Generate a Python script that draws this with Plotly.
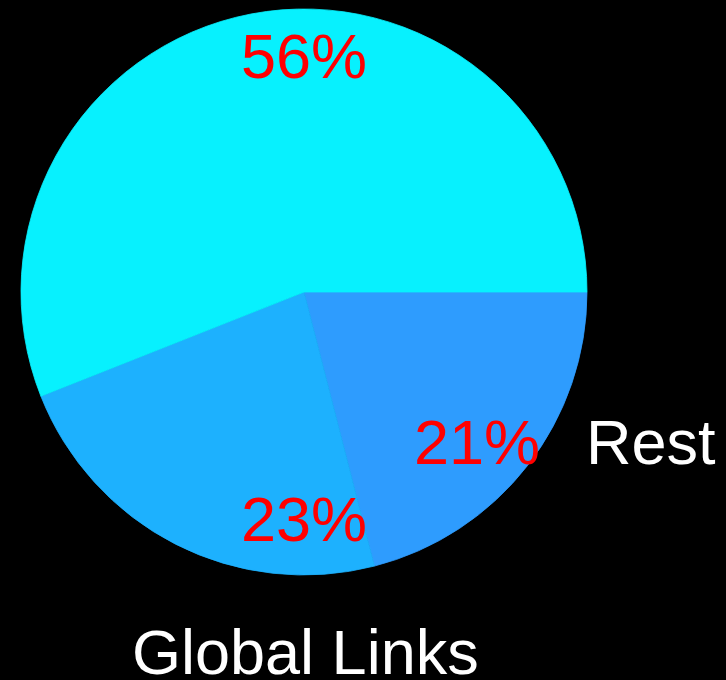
import plotly.graph_objects as go

# Data
labels = ["Rest", "Global Links", "Local Links"]
values = [21, 23, 56]
colors = ["#2E9CFE", "#1DB1FE", "#07F1FE"]

W, H = 726, 680

# label anchor positions (pixel) for percent text and category text
pct_pos = [(477, 442), (304, 519), (304, 56)]
lab_pos = [(651, 442), (305, 652), (2, 442)]

fig = go.Figure()
fig.add_trace(go.Pie(
    labels=labels,
    values=values,
    marker=dict(colors=colors, line=dict(width=0.8, color=colors)),
    sort=False,
    direction="clockwise",
    rotation=90,
    textinfo="none",
    hoverinfo="label+percent",
    domain=dict(x=[21 / W, 587 / W], y=[1 - 575 / H, 1 - 9 / H]),
    showlegend=False,
))

total = sum(values)
font = "Liberation Sans, Arial, sans-serif"
fs = 63
ann = []
for i, (lab, v) in enumerate(zip(labels, values)):
    px, py = pct_pos[i]
    ann.append(dict(x=px / W, y=1 - py / H, xref="paper", yref="paper",
                    text=f"{round(100 * v / total)}%", showarrow=False,
                    xanchor="center", yanchor="middle",
                    font=dict(family=font, size=fs, color="#FF0000")))
    lx, ly = lab_pos[i]
    ann.append(dict(x=lx / W, y=1 - ly / H, xref="paper", yref="paper",
                    text=lab, showarrow=False,
                    xanchor="right" if lx < 50 else "center", yanchor="middle",
                    font=dict(family=font, size=fs, color="#FFFFFF")))

fig.update_layout(
    width=W, height=H,
    margin=dict(l=0, r=0, t=0, b=0, pad=0),
    paper_bgcolor="#000000",
    plot_bgcolor="#000000",
    annotations=ann,
)

fig.write_html("out.html")
